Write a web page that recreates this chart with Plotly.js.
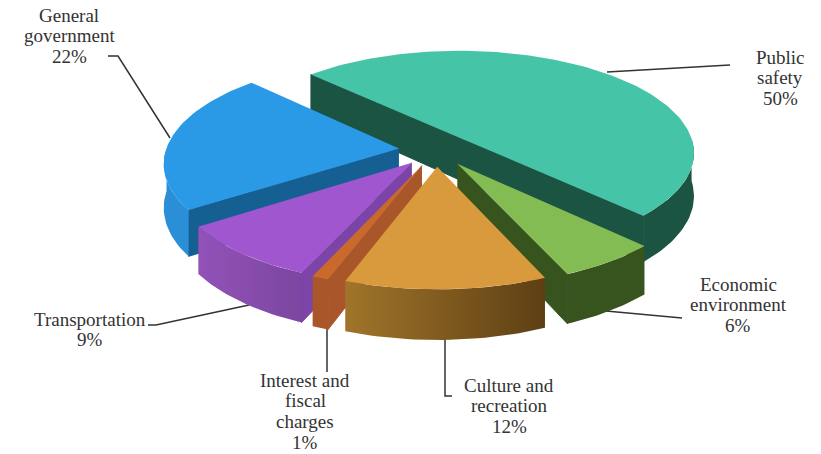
<!DOCTYPE html>
<html>
<head>
<meta charset="utf-8">
<script src="https://cdn.plot.ly/plotly-3.0.1.min.js"></script>
<style>html,body{margin:0;padding:0;background:#fff}#chart{width:821px;height:454px}</style>
</head>
<body>
<div id="chart"></div>
<script>
// Spending shares, listed clockwise from the back-left edge of the largest slice.
const categories = ['Public safety', 'Economic environment', 'Culture and recreation',
                    'Interest and fiscal charges', 'Transportation', 'General government'];
const shares = [50, 6, 12, 1, 9, 22];
const labelLines = [['Public', 'safety'], ['Economic', 'environment'], ['Culture and', 'recreation'],
                    ['Interest and', 'fiscal', 'charges'], ['Transportation'], ['General', 'government']];
const topColors = ['#46c4a8', '#84bc54', '#d89a3c', '#c96a2c', '#a056cf', '#2b9ae6'];
const cutColors = ['#1c5443', '#37541f', '#7a5520', '#a9562a', '#7c44a6', '#155f93'];
const rimStart = ['#1c5443', '#37541f', '#a0752a', '#a9562a', '#9252b8', '#2b8fd8'];
const rimEnd = ['#1c5443', '#37541f', '#5e3f14', '#a9562a', '#7c46a0', '#2b8fd8'];

// Label anchors: x centre and y of the first line, then the leader line path.
const labelAnchors = [[780, 57], [738, 284], [509, 385], [305, 380], [90, 319], [69, 15]];
const leaderXs = [[607, 730], [606, 682], [445, 445, 452], [327, 327], [148, 156, 249], [108, 118, 170]];
const leaderYs = [[72, 65], [311, 318], [338, 396, 396], [326, 372], [325, 325, 305], [56, 56, 138]];

// Projection of the pie plane onto the page.
const pie = {cx: 436, cy: 150, rx: 233, ry: 102, persp: 0.13, depth: 43, explode: 0.16, start: -135};
const LINE_H = 20.8;

function project(u, v, drop) {
  const s = 1 / (1 - pie.persp * v);
  return [pie.cx + pie.rx * u * s, pie.cy + pie.ry * v * s + (drop ? pie.depth * s : 0)];
}
const rad = d => d * Math.PI / 180;

function arcAngles(a, b) {
  const out = [];
  const n = Math.max(2, Math.ceil(Math.abs(b - a) / 1.5));
  for (let i = 0; i <= n; i++) out.push(a + (b - a) * i / n);
  return out;
}

function polygon(points, fill, gradient, edge) {
  const t = {
    type: 'scatter', mode: 'lines', hoverinfo: 'skip', showlegend: false,
    x: points.map(p => p[0]), y: points.map(p => p[1]),
    fill: 'toself', fillcolor: fill, line: {width: edge || 0, color: fill}
  };
  if (gradient) t.fillgradient = {type: 'horizontal', colorscale: [[0, gradient[0]], [1, gradient[1]]]};
  return t;
}

const traces = [];

// Leader lines sit beneath the pie so they stop at its edge.
leaderXs.forEach((xs, i) => traces.push({
  type: 'scatter', mode: 'lines', hoverinfo: 'skip', showlegend: false,
  x: xs, y: leaderYs[i], line: {color: '#333333', width: 1.5}
}));

// Walk round the pie to find each slice's sweep.
const total = shares.reduce((a, b) => a + b, 0);
let angle = pie.start;
const slices = shares.map((value, i) => {
  const a = angle, b = angle + value / total * 360;
  angle = b;
  const mid = rad((a + b) / 2);
  return {i, a, b, ox: pie.explode * Math.cos(mid), oy: pie.explode * Math.sin(mid)};
});

// Far slices are painted first.
const paintOrder = [0, 5, 1, 4, 3, 2];
paintOrder.forEach(idx => {
  const s = slices[idx];
  const at = (deg, drop) => project(s.ox + Math.cos(rad(deg)), s.oy + Math.sin(rad(deg)), drop);
  const apex = drop => project(s.ox, s.oy, drop);

  // Straight cut faces, only where they turn towards the viewer.
  if (Math.cos(rad(s.a)) < 0) {
    traces.push(polygon([apex(false), at(s.a, false), at(s.a, true), apex(true)], cutColors[idx], null, 1));
  }
  if (Math.cos(rad(s.b)) > 0) {
    traces.push(polygon([apex(false), at(s.b, false), at(s.b, true), apex(true)], cutColors[idx], null, 1));
  }

  // Curved rim: the part of the arc on the near side of the pie.
  const near = arcAngles(s.a, s.b).filter(d => Math.sin(rad(d)) > -0.02);
  if (near.length > 1) {
    const rim = near.map(d => at(d, false)).concat(near.slice().reverse().map(d => at(d, true)));
    traces.push(polygon(rim, rimStart[idx], [rimStart[idx], rimEnd[idx]]));
  }

  // Top face.
  const top = [apex(false)].concat(arcAngles(s.a, s.b).map(d => at(d, false)));
  traces.push(polygon(top, topColors[idx]));
});

// Each label is centred line by line, with the share on the last line.
const annotations = [];
labelLines.forEach((lines, i) => {
  lines.concat([shares[i] + '%']).forEach((text, n) => annotations.push({
    x: labelAnchors[i][0], y: labelAnchors[i][1] + n * LINE_H,
    xref: 'x', yref: 'y', text, showarrow: false, xanchor: 'center', yanchor: 'middle',
    font: {family: '"Liberation Serif", serif', size: 19, color: '#333333'}
  }));
});

Plotly.newPlot('chart', traces, {
  width: 821, height: 454,
  margin: {l: 0, r: 0, t: 0, b: 0},
  paper_bgcolor: '#ffffff', plot_bgcolor: '#ffffff',
  showlegend: false,
  xaxis: {range: [0, 821], visible: false, fixedrange: true},
  yaxis: {range: [454, 0], visible: false, fixedrange: true},
  annotations
}, {displayModeBar: false, staticPlot: true});
</script>
</body>
</html>
